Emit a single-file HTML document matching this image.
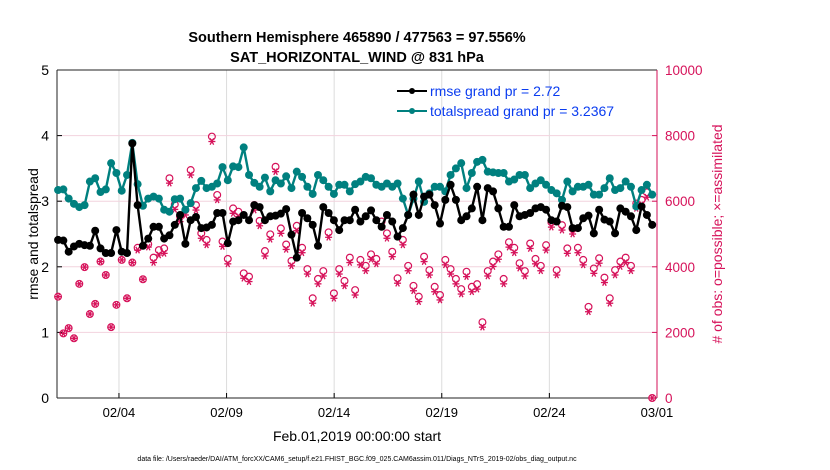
<!DOCTYPE html>
<html><head><meta charset="utf-8"><style>
body{margin:0;background:#fff;}
svg{display:block;font-family:"Liberation Sans",Arial,sans-serif;}
</style></head><body>
<svg id="chart" width="830" height="470" viewBox="0 0 830 470">
<g id="grid"></g>
<g id="axes"></g>
<g id="series"></g>
<text x="357" y="42" text-anchor="middle" font-size="14.5" font-weight="bold">Southern Hemisphere 465890 / 477563 = 97.556%</text>
<text x="357" y="62" text-anchor="middle" font-size="14.5" font-weight="bold">SAT_HORIZONTAL_WIND @ 831 hPa</text>
<text transform="translate(38,234) rotate(-90)" text-anchor="middle" font-size="14">rmse and totalspread</text>
<text transform="translate(722,234) rotate(-90)" text-anchor="middle" font-size="14" fill="#d6125a"># of obs: o=possible; ×=assimilated</text>
<text x="357" y="441" text-anchor="middle" font-size="14">Feb.01,2019 00:00:00 start</text>
<text x="357" y="461" text-anchor="middle" font-size="7">data file: /Users/raeder/DAI/ATM_forcXX/CAM6_setup/f.e21.FHIST_BGC.f09_025.CAM6assim.011/Diags_NTrS_2019-02/obs_diag_output.nc</text>
<g>
<line x1="397" y1="91" x2="427" y2="91" stroke="#000" stroke-width="2"/>
<circle cx="412" cy="91" r="3" fill="#000"/>
<text x="430" y="96" font-size="14" fill="#0a3cf0">rmse grand pr = 2.72</text>
<line x1="397" y1="111" x2="427" y2="111" stroke="#00807f" stroke-width="2"/>
<circle cx="412" cy="111" r="3" fill="#00807f"/>
<text x="430" y="116" font-size="14" fill="#0a3cf0">totalspread grand pr = 3.2367</text>
</g>
</svg>
<script>
const rmse=[2.41,2.40,2.23,2.31,2.35,2.33,2.32,2.55,2.28,2.21,2.21,2.56,2.23,2.21,3.88,2.94,2.32,2.43,2.61,2.61,2.43,2.48,2.64,2.79,2.35,2.71,2.76,2.59,
2.60,2.64,2.82,2.82,2.36,2.69,2.71,2.79,2.71,2.94,2.91,2.71,2.77,2.78,2.81,2.88,2.49,2.14,2.82,2.74,2.64,2.32,2.91,2.82,2.71,2.56,2.71,2.71,2.87,
2.69,2.77,2.86,2.71,2.61,2.79,2.69,2.46,2.59,2.79,3.10,2.79,3.07,3.10,2.94,2.66,3.02,3.25,3.02,2.71,2.77,2.89,3.22,2.71,3.20,3.15,2.89,2.61,
2.61,2.94,2.77,2.79,2.82,2.89,2.91,2.87,2.71,2.69,2.93,2.91,2.59,2.59,2.74,2.78,2.51,2.87,2.72,2.69,2.51,2.89,2.84,2.77,2.56,2.92,2.79,2.64];
const spread=[3.17,3.18,3.04,2.96,2.91,2.94,3.30,3.35,3.14,3.18,3.58,3.43,3.16,3.40,3.89,3.26,2.93,3.04,3.07,3.04,2.87,2.84,3.03,3.04,2.87,2.97,3.20,3.31,
3.20,3.22,3.27,3.52,3.32,3.53,3.52,3.82,3.40,3.28,3.22,3.36,3.15,3.32,3.27,3.38,3.20,3.45,3.37,3.22,3.11,3.40,3.32,3.22,3.11,3.25,3.25,3.15,3.26,
3.30,3.37,3.35,3.25,3.22,3.27,3.22,3.27,3.04,2.79,3.04,3.30,2.99,3.12,3.22,3.22,3.15,3.40,3.50,3.58,3.20,3.43,3.60,3.63,3.45,3.44,3.43,3.43,
3.30,3.33,3.40,3.40,3.20,3.27,3.32,3.25,3.17,3.12,3.02,3.30,3.15,3.22,3.22,3.25,3.10,3.10,3.20,3.35,3.17,3.20,3.30,3.22,2.92,3.17,3.25,3.10];
const assimilated=[3090,1970,2130,1820,3480,3990,2560,2870,4160,3750,2160,2840,4210,3040,4130,4510,3620,4600,4130,4360,4410,6550,5750,5380,5580,6800,5730,4870,4670,
7820,6040,4620,4090,5630,5530,3650,3550,5730,5250,4330,4840,6900,5020,4530,4030,5100,4430,3780,2890,3480,3720,4900,3040,3780,3420,4130,3140,
4060,3880,4230,4090,5230,4870,4310,3500,4670,3880,3270,2940,4160,3750,3240,2990,4060,3780,3480,3170,3700,3240,3320,2160,3720,4010,4230,3480,
4600,4430,3960,3720,4560,4090,3880,4510,5210,3750,5120,4410,5000,4430,4060,2630,3800,4110,3520,2890,3750,4010,4130,3880,5780,5890,6120,0];
const possible=[3090,1970,2130,1820,3480,3990,2560,2870,4160,3750,2160,2840,4210,3040,4130,4580,3620,4690,4280,4510,4560,6700,5900,5530,5730,6950,5880,5020,4820,
7970,6190,4770,4240,5780,5680,3800,3700,5880,5400,4480,4990,7050,5170,4680,4180,5250,4580,3930,3040,3630,3870,5050,3190,3930,3570,4280,3290,
4210,4030,4380,4240,5380,5020,4460,3650,4820,4030,3420,3090,4310,3900,3390,3140,4210,3930,3630,3320,3850,3390,3470,2310,3870,4160,4380,3630,
4750,4580,4110,3870,4710,4240,4030,4660,5360,3900,5270,4560,5150,4580,4210,2780,3950,4260,3670,3040,3900,4160,4280,4030,5930,6040,6270,0];
const yTicks=[0,1,2,3,4,5];
const y2Ticks=[0,2000,4000,6000,8000,10000];
const xTickDays=[3,8,13,18,23,28];
const xTickLabels=["02/04","02/09","02/14","02/19","02/24","03/01"];
const t0=0.17, dt=0.2465;

const NS="http://www.w3.org/2000/svg";
const L=57,R=657,T=70,B=398;
const xs=d=>54.4+d*21.52;
const ys=v=>B-(v/5)*(B-T);
const ys2=v=>B-(v/10000)*(B-T);
function mk(tag,attrs,parent){const e=document.createElementNS(NS,tag);for(const k in attrs)e.setAttribute(k,attrs[k]);parent.appendChild(e);return e;}
const grid=document.getElementById('grid'),axes=document.getElementById('axes'),ser=document.getElementById('series');

xTickDays.forEach((d,i)=>{
 const x=xs(d);
 const g=mk('line',{x1:x,y1:T,x2:x,y2:B,stroke:'#dcdcdc','stroke-width':1},grid);
 
 
 mk('line',{x1:x,y1:B,x2:x,y2:B-5,stroke:'#000'},axes);
 const t=mk('text',{x:x,y:B+19,'text-anchor':'middle','font-size':13},axes);
 t.textContent=xTickLabels[i];
 
 
});
y2Ticks.forEach(v=>{
 const y=ys2(v);
 if(v>0&&v<10000){const g=mk('line',{x1:L,y1:y,x2:R,y2:y,stroke:'#f2d3de','stroke-width':1},grid);
 
 }
 mk('line',{x1:R,y1:y,x2:R-5,y2:y,stroke:'#d6125a'},axes);
 const t=mk('text',{x:R+8,y:y+5,'font-size':13.5,fill:'#d6125a'},axes);
 t.textContent=v;
 
 
});
yTicks.forEach(v=>{
 const y=ys(v);
 mk('line',{x1:L,y1:y,x2:L+5,y2:y,stroke:'#000'},axes);
 const t=mk('text',{x:L-8,y:y+5,'text-anchor':'end','font-size':14},axes);
 t.textContent=v;
 
 
});
mk('line',{x1:L,y1:T,x2:R,y2:T,stroke:'#222'},axes);
mk('line',{x1:L,y1:B,x2:R,y2:B,stroke:'#222'},axes);
mk('line',{x1:L,y1:T,x2:L,y2:B,stroke:'#222'},axes);
mk('line',{x1:R,y1:T,x2:R,y2:B,stroke:'#d6125a'},axes);

const mag='#d6125a';
assimilated.forEach((v,i)=>{
 const x=xs(t0+i*dt),y=ys2(v);
 const g=mk('g',{stroke:mag,'stroke-width':1.3},ser);
 
 
 mk('line',{x1:x-3.5,y1:y,x2:x+3.5,y2:y},g);
 mk('line',{x1:x-1.8,y1:y-3.2,x2:x+1.8,y2:y+3.2},g);
 mk('line',{x1:x+1.8,y1:y-3.2,x2:x-1.8,y2:y+3.2},g);
});
possible.forEach((v,i)=>{
 const c=mk('circle',{cx:xs(t0+i*dt),cy:ys2(v),r:3.4,fill:'none',stroke:mag,'stroke-width':1.2},ser);
 
 
});
function line(arr,color,name){
 const pts=arr.map((v,i)=>xs(t0+i*dt).toFixed(1)+','+ys(v).toFixed(1)).join(' ');
 const p=mk('polyline',{points:pts,fill:'none',stroke:color,'stroke-width':2.4},ser);
 
 
 arr.forEach((v,i)=>{
  const c=mk('circle',{cx:xs(t0+i*dt),cy:ys(v),r:4,fill:color},ser);
  
  
 });
}
line(spread,'#00807f','totalspread');
line(rmse,'#000','rmse');
</script>
</body></html>
